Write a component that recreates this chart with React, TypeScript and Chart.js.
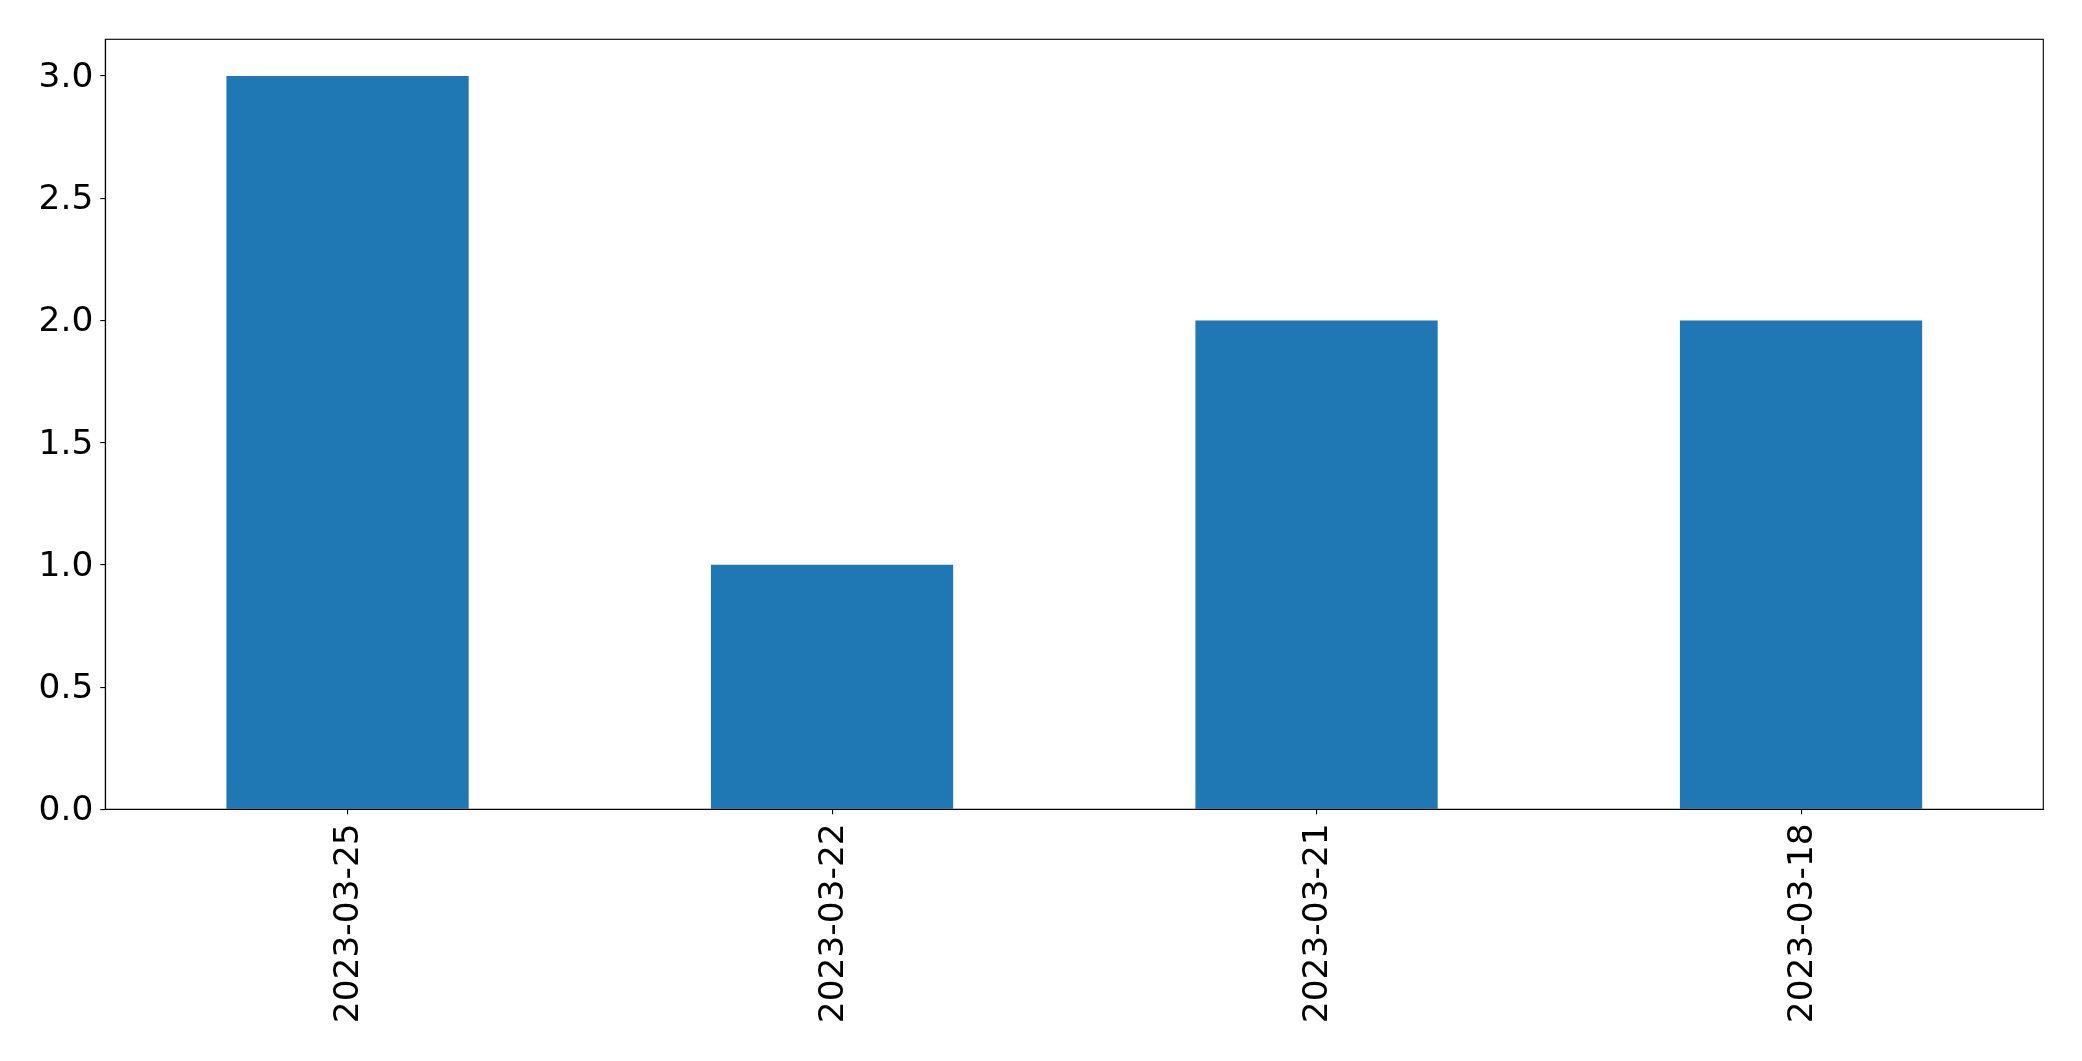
import React, { useEffect, useRef } from "react";
import { Chart, registerables } from "chart.js";

Chart.register(...registerables);

const categories = ["2023-03-25", "2023-03-22", "2023-03-21", "2023-03-18"];
const values = [3, 1, 2, 2];
const yTicks = [0, 0.5, 1.0, 1.5, 2.0, 2.5, 3.0];

const W = 2082;
const H = 1061;
const LEFT = 105.3;
const RIGHT = 2043.3;
const TOP = 39.3;
const BOTTOM = 809.3;

const framePlugin = {
  id: "frame",
  beforeDraw(chart: any) {
    // nudge label ink to sit centred on its tick like matplotlib's layout
    for (const id of ["x", "y"]) {
      const scale = chart.scales[id];
      const items = scale.getLabelItems();
      for (const item of items) {
        if (!item.__nudged) {
          item.textOffset += 2;
          item.__nudged = true;
        }
      }
    }
  },
  afterDraw(chart: any) {
    const { ctx, chartArea } = chart;
    ctx.save();
    ctx.strokeStyle = "#000";
    ctx.lineWidth = 1.1;
    ctx.strokeRect(chartArea.left, chartArea.top, chartArea.right - chartArea.left, chartArea.bottom - chartArea.top);
    ctx.restore();
  },
};

export default function App() {
  const ref = useRef<HTMLCanvasElement>(null);
  useEffect(() => {
    if (!ref.current) return;
    const font = { family: "'DejaVu Sans', sans-serif", size: 34.4 };
    const chart = new Chart(ref.current, {
      type: "bar",
      data: {
        labels: categories,
        datasets: [
          {
            data: values,
            backgroundColor: "#1f77b4",
            barPercentage: 0.5,
            categoryPercentage: 1,
          },
        ],
      },
      options: {
        animation: false,
        responsive: false,
        devicePixelRatio: 1,
        layout: { padding: { top: TOP, right: W - RIGHT, left: 0, bottom: 0 } },
        plugins: { legend: { display: false }, tooltip: { enabled: false } },
        scales: {
          x: {
            grid: { display: true, offset: false, drawOnChartArea: false, drawTicks: true, tickLength: 5, color: "#000", lineWidth: 1.1 },
            border: { display: true, color: "#000", width: 1.1 },
            ticks: { color: "#000", font, maxRotation: 90, minRotation: 90, padding: 9, autoSkip: false },
            afterFit(scale: any) {
              scale.height = H - BOTTOM;
            },
          },
          y: {
            min: 0,
            max: 3.15,
            afterBuildTicks(scale: any) {
              scale.ticks = yTicks.map((v) => ({ value: v }));
            },
            grid: { display: true, drawOnChartArea: false, drawTicks: true, tickLength: 5, color: "#000", lineWidth: 1.1 },
            border: { display: true, color: "#000", width: 1.1 },
            ticks: {
              color: "#000",
              font,
              padding: 7,
              callback: (v: any) => Number(v).toFixed(1),
            },
            afterFit(scale: any) {
              scale.width = LEFT;
            },
          },
        },
      },
      plugins: [framePlugin],
    });
    return () => chart.destroy();
  }, []);
  return (
    <div style={{ position: "fixed", left: 0, top: 0, width: W, height: H, background: "#fff" }}>
      <canvas ref={ref} width={W} height={H} style={{ width: W, height: H, display: "block" }} />
    </div>
  );
}
